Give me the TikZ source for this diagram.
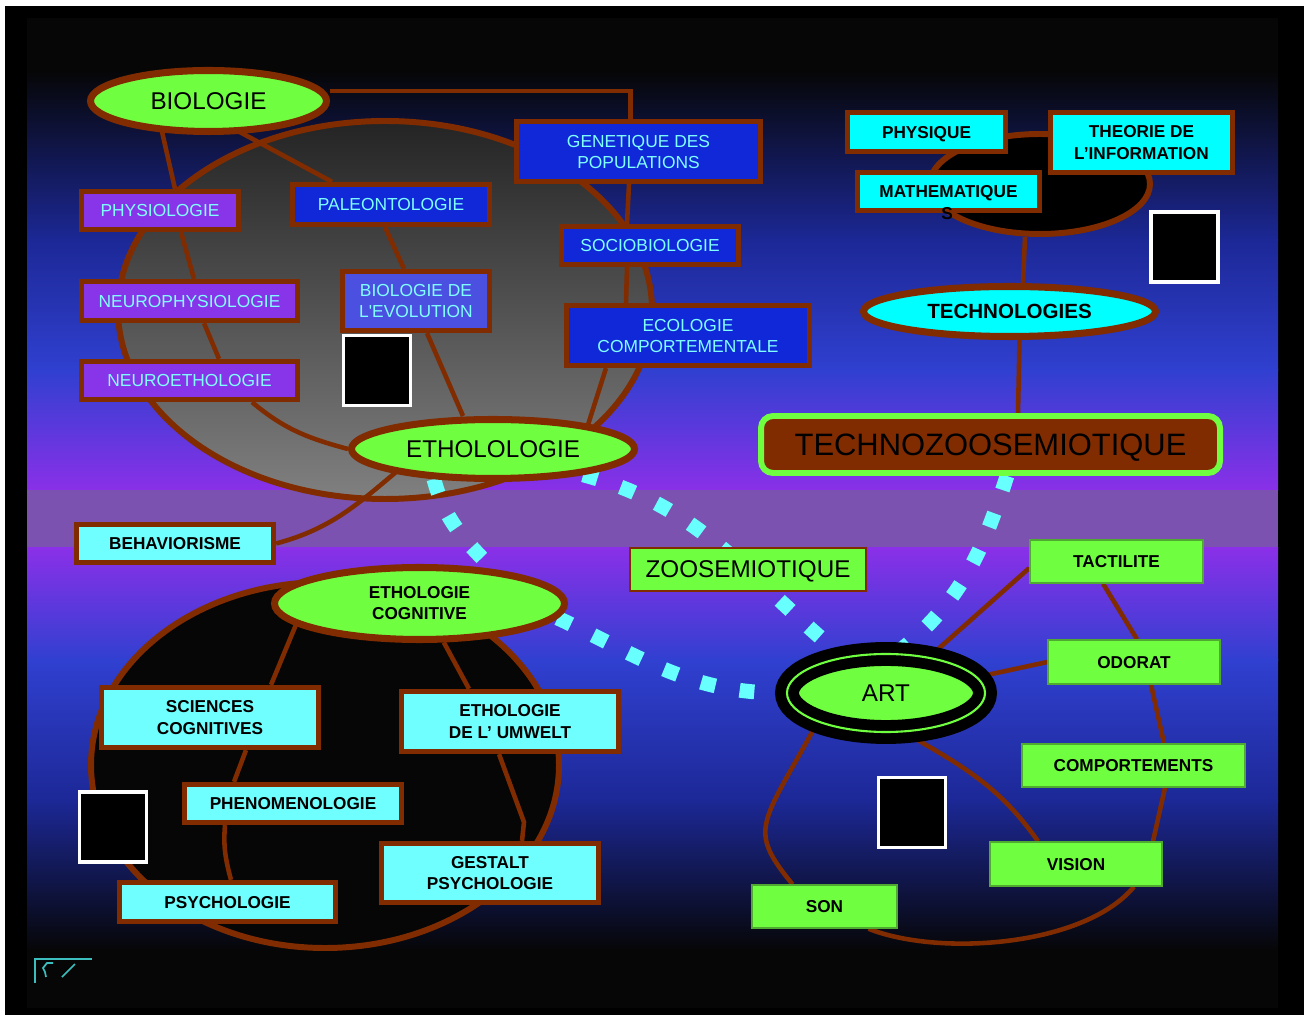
\documentclass[tikz,border=0pt]{standalone}
\usepackage{fontspec}
\setmainfont{Liberation Sans}
\usetikzlibrary{shapes.geometric}

\definecolor{brn}{RGB}{128,44,0}
\definecolor{limegr}{RGB}{112,255,64}
\definecolor{sensegr}{RGB}{80,170,50}
\definecolor{boxblue}{RGB}{16,40,216}
\definecolor{boxpurple}{RGB}{136,52,232}
\definecolor{evolblue}{RGB}{76,80,224}
\definecolor{txtcyan}{RGB}{128,255,255}
\definecolor{palecyan}{RGB}{112,255,255}
\definecolor{brightcyan}{RGB}{0,255,255}
\definecolor{dashcyan}{RGB}{104,255,255}
\definecolor{glyphcyan}{RGB}{60,190,190}
\definecolor{bgdark}{RGB}{6,6,6}
\definecolor{bgnavy}{RGB}{28,40,150}
\definecolor{bgblue}{RGB}{48,64,208}
\definecolor{bgviolet}{RGB}{138,48,232}
\definecolor{bandpurple}{RGB}{123,82,176}
\definecolor{graytop}{RGB}{36,36,36}
\definecolor{graybot}{RGB}{128,128,128}

\pgfdeclarelayer{back}
\pgfdeclarelayer{mid}
\pgfsetlayers{back,mid,main}

\tikzset{
  bigtxt/.style={font=\fontsize{6.9}{8}\selectfont},
  smalltxt/.style={font=\fontsize{4.95}{6}\selectfont},
  boldtxt/.style={font=\fontsize{4.9}{6}\selectfont\bfseries},
  field/.style={rectangle, draw=brn, line width=1.5pt, inner sep=0pt, text depth=0pt, align=center},
  bluefield/.style={field, fill=boxblue, text=txtcyan, smalltxt},
  purplefield/.style={field, fill=boxpurple, text=txtcyan, smalltxt},
  cyanfield/.style={field, fill=palecyan, boldtxt},
  brightfield/.style={field, fill=brightcyan, boldtxt},
  sense/.style={rectangle, draw=sensegr, line width=0.4pt, fill=limegr, inner sep=0pt, text depth=0pt, boldtxt},
  oval/.style={ellipse, draw=brn, line width=2pt, fill=limegr, inner sep=0pt, align=center},
  photo/.style={rectangle, fill=black, draw=white, line width=0.9pt, minimum width=6.7mm, minimum height=7mm},
  disc/.style={ellipse, draw=brn, line width=1.7pt, inner sep=0pt},
  link/.style={draw=brn, line width=1.3pt},
  zoolink/.style={draw=dashcyan, line width=4.2pt, dash pattern=on 4.2pt off 7pt},
  glyph/.style={draw=glyphcyan, line width=0.5pt}
}

\begin{document}
\begin{tikzpicture}[x=0.1mm, y=-0.1mm]
\useasboundingbox (0,0) rectangle (1304,1019);

\begin{pgfonlayer}{back}
% frame and background bands
\fill[white] (0,0) rectangle (1304,1019);
\fill[black] (5,6) rectangle (1304,1015);
\fill[bgdark] (27,18) rectangle (1278,71);
\shade[top color=bgdark, bottom color=bgnavy] (27,70) rectangle (1278,241);
\shade[top color=bgnavy, bottom color=bgblue] (27,240) rectangle (1278,371);
\shade[top color=bgblue, bottom color=bgviolet] (27,370) rectangle (1278,491);
\fill[bandpurple] (27,490) rectangle (1278,549);
\shade[top color=bgviolet, bottom color=bgblue] (27,548) rectangle (1278,661);
\shade[top color=bgblue, bottom color=bgnavy] (27,660) rectangle (1278,801);
\shade[top color=bgnavy, bottom color=bgdark] (27,800) rectangle (1278,951);
\fill[bgdark] (27,950) rectangle (1278,1008);

% discs behind the three groups
\node[disc, top color=graytop, bottom color=graybot, minimum width=53.4mm, minimum height=37.8mm] (biodisc) at (385,310) {};
\node[disc, fill=bgdark, minimum width=46.8mm, minimum height=36.6mm] (cogdisc) at (325,765) {};
\node[disc, fill=black, minimum width=22mm, minimum height=10mm] (techbase) at (1040,184) {};

% small corner glyph
\draw[glyph] (35,983) -- (35,959) -- (92,959);
\draw[glyph] (53,963) -- (47,963) -- (43,968) -- (45,972) -- (46,977);
\draw[glyph] (62,977) -- (75,964);
\end{pgfonlayer}

% biology group
\node[oval, bigtxt, minimum width=23.6mm, minimum height=6.1mm] (bio) at (208.5,101) {BIOLOGIE};
\node[bluefield, minimum width=24.4mm, minimum height=6mm] (gen) at (638.5,151.5) {GENETIQUE DES\\POPULATIONS};
\node[purplefield, minimum width=15.7mm, minimum height=3.8mm] (physio) at (160,210.5) {PHYSIOLOGIE};
\node[bluefield, minimum width=19.7mm, minimum height=4mm] (paleo) at (391,204.5) {PALEONTOLOGIE};
\node[bluefield, minimum width=17.7mm, minimum height=3.8mm] (socio) at (650,245.5) {SOCIOBIOLOGIE};
\node[purplefield, minimum width=21.6mm, minimum height=3.9mm] (nphys) at (189.5,301) {NEUROPHYSIOLOGIE};
\node[bluefield, fill=evolblue, minimum width=14.7mm, minimum height=5.9mm] (bioevol) at (416,301) {BIOLOGIE DE\\L\textquotesingle EVOLUTION};
\node[bluefield, minimum width=24.3mm, minimum height=6mm] (ecol) at (688,335.5) {ECOLOGIE\\COMPORTEMENTALE};
\node[purplefield, minimum width=21.6mm, minimum height=3.8mm] (neth) at (189.5,380.5) {NEUROETHOLOGIE};
\node[photo] (photoA) at (377,370.5) {};
\node[oval, bigtxt, minimum width=28.3mm, minimum height=5.9mm] (etholo) at (493,449) {ETHOLOLOGIE};
\node[cyanfield, minimum width=19.7mm, minimum height=3.8mm] (behav) at (175,543.5) {BEHAVIORISME};

% cognition group
\node[oval, boldtxt, minimum width=29mm, minimum height=7.2mm] (ethcog) at (419.5,603.5) {ETHOLOGIE\\COGNITIVE};
\node[cyanfield, minimum width=21.7mm, minimum height=6mm] (sciences) at (210,717.5) {SCIENCES\\COGNITIVES};
\node[cyanfield, minimum width=21.7mm, minimum height=6mm] (umwelt) at (510,721.5) {ETHOLOGIE\\DE L’ UMWELT};
\node[cyanfield, minimum width=21.7mm, minimum height=3.8mm] (phenom) at (293,803.5) {PHENOMENOLOGIE};
\node[cyanfield, minimum width=21.7mm, minimum height=5.9mm] (gestalt) at (490,873) {GESTALT\\PSYCHOLOGIE};
\node[cyanfield, minimum width=21.6mm, minimum height=3.9mm] (psych) at (227.5,902) {PSYCHOLOGIE};
\node[photo] (photoB) at (113,827) {};

% technology group
\node[brightfield, minimum width=15.8mm, minimum height=3.9mm] (physique) at (926.5,132) {PHYSIQUE};
\node[brightfield, minimum width=18.2mm, minimum height=6mm] (theorie) at (1141.5,142.5) {THEORIE DE\\L’INFORMATION};
\node[brightfield, minimum width=18.2mm, minimum height=3.8mm] (maths) at (948.5,191.5) {MATHEMATIQUE};
\node[boldtxt, inner sep=0pt] (mathS) at (947,214) {S};
\node[photo] (photoC) at (1184.5,247) {};
\node[oval, fill=brightcyan, font=\fontsize{5.85}{7}\selectfont\bfseries, minimum width=29.2mm, minimum height=5mm] (technologies) at (1009.5,311.5) {TECHNOLOGIES};
\node[rectangle, rounded corners=1.2mm, fill=brn, draw=limegr, line width=1.7pt, inner sep=0pt, text depth=0pt, font=\fontsize{8.8}{10}\selectfont, minimum width=45.9mm, minimum height=5.7mm] (tzoo) at (990.5,444.5) {TECHNOZOOSEMIOTIQUE};

% art group
\node[sense, bigtxt, draw=brn, line width=0.5pt, minimum width=23.6mm, minimum height=4.3mm] (zoo) at (748,569.5) {ZOOSEMIOTIQUE};
\node[ellipse, fill=limegr, draw=black, double=limegr, double distance=0.6pt, line width=3.1pt, inner sep=0pt, bigtxt, minimum width=19.8mm, minimum height=7.8mm] (art) at (886,693) {ART};
\node[sense, minimum width=17.3mm, minimum height=4.3mm] (tact) at (1116.5,561.5) {TACTILITE};
\node[sense, minimum width=17.2mm, minimum height=4.4mm] (odorat) at (1134,662) {ODORAT};
\node[sense, minimum width=22.3mm, minimum height=4.3mm] (comport) at (1133.5,765.5) {COMPORTEMENTS};
\node[sense, minimum width=17.2mm, minimum height=4.4mm] (vision) at (1076,864) {VISION};
\node[sense, minimum width=14.5mm, minimum height=4.3mm] (son) at (824.5,906.5) {SON};
\node[photo] (photoD) at (912,812.5) {};

\begin{pgfonlayer}{mid}
% biology links
\draw[link] ([xshift=-4.8mm,yshift=1mm]bio.south) -- ([xshift=1.5mm]physio.north);
\draw[link] ([xshift=2.75mm,yshift=0.5mm]bio.south) -- ([xshift=-5.9mm]paleo.north);
\draw[link] ([yshift=1mm]bio.east) -| ([xshift=-0.8mm]gen.north);
\draw[link] ([xshift=2.1mm]physio.south) -- ([xshift=0.45mm]nphys.north);
\draw[link] ([xshift=1.45mm]nphys.south) -- ([xshift=2.95mm]neth.north);
\draw[link] ([xshift=6.25mm]neth.south) to[out=-40,in=165] (etholo.west);
\draw[link] ([xshift=-0.6mm]paleo.south) -- ([xshift=-1.2mm]bioevol.north);
\draw[link] ([xshift=1.1mm]bioevol.south) -- ([xshift=-3mm]etholo.north);
\draw[link] ([xshift=-0.95mm]gen.south) -- ([xshift=-2.3mm]socio.north);
\draw[link] ([xshift=-2.3mm]socio.south) -- ([xshift=-6.2mm]ecol.north);
\draw[link] ([xshift=-8.2mm]ecol.south) -- ([xshift=9.4mm,yshift=-1.2mm]etholo.north);
\draw[link] ([xshift=-9.1mm,yshift=1.5mm]etholo.south) to[out=220,in=15] (behav.east);

% cognition links
\draw[link] (ethcog.190) -- ([xshift=6.1mm]sciences.north);
\draw[link] (ethcog.302) -- ([xshift=-4.1mm]umwelt.north);
\draw[link] ([xshift=3.6mm]sciences.south) -- ([xshift=-5.9mm]phenom.north);
\draw[link] ([xshift=-6.8mm]phenom.south) to[out=265,in=105] ([xshift=0.35mm]psych.north);
\draw[link] ([xshift=-1.1mm]umwelt.south) -- ++(25,68) -- ([xshift=3.2mm]gestalt.north);

% technology links
\draw[link] ([xshift=-1.5mm]techbase.south) -- ([xshift=1.35mm]technologies.north);
\draw[link] ([xshift=1mm]technologies.south) -- ([xshift=2.75mm]tzoo.north);

% art loop
\draw[link] ([yshift=-0.65mm]tact.west) -- (art.40);
\draw[link] (odorat.west) -- (art.10);
\draw[link] (art.-60) to[out=-30,in=125] ([xshift=-3.8mm]vision.north);
\draw[link] (art.205) .. controls +(-55,100) and +(-45,-55) .. ([xshift=-3.2mm]son.north);
\draw[link] ([xshift=4.4mm]son.south) .. controls +(70,28) and +(-50,60) .. ([xshift=5.8mm]vision.south);
\draw[link] ([xshift=7.7mm]vision.north) -- ([xshift=3.15mm]comport.south);
\draw[link] ([xshift=3.05mm]comport.north) -- ([xshift=1.7mm]odorat.south);
\draw[link] ([xshift=0.3mm]odorat.north) -- ([xshift=-1.35mm]tact.south);

% dotted semiotic paths
\draw[zoolink] (etholo.207) to[out=-75,in=135] (ethcog.25);
\draw[zoolink] (etholo.-16) to[out=-15,in=140] (art.140);
\draw[zoolink] (ethcog.-6) to[out=-25,in=180] (art.west);
\draw[zoolink] ([xshift=1.65mm]tzoo.south) to[out=252,in=40] (art.70);
\end{pgfonlayer}

\end{tikzpicture}
\end{document}
